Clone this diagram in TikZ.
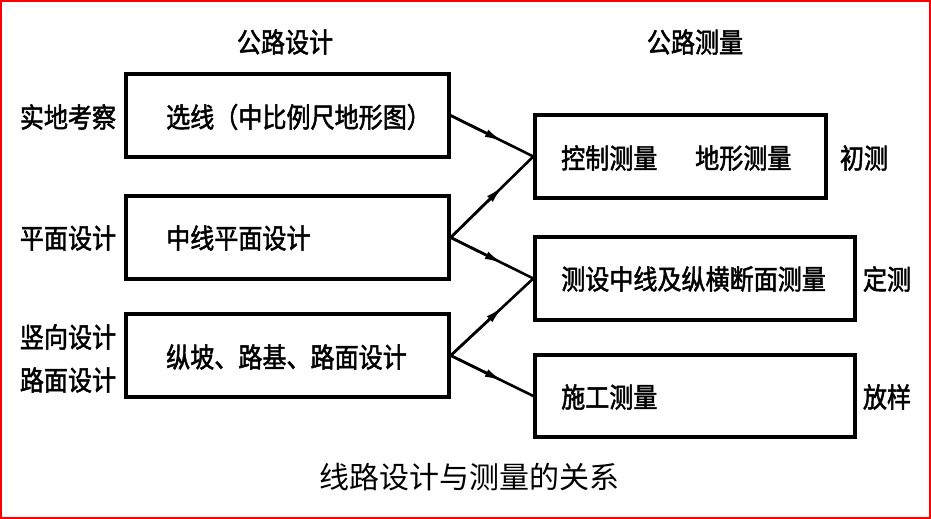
\documentclass[tikz,border=0pt]{standalone}
\usepackage{fontspec}
\newfontfamily\cjk[FakeStretch=0.875,FakeBold=1.8]{Noto Sans CJK SC}
\newfontfamily\cjkcap{Noto Sans CJK SC}
\usetikzlibrary{arrows.meta,calc}
\begin{document}
\begin{tikzpicture}[x=1pt,y=-1pt,
  box/.style={draw, line width=3.4pt, inner sep=0pt, minimum height=83pt},
  txt/.style={font=\cjk\fontsize{27.5}{30}\selectfont, inner sep=0pt},
  captext/.style={font=\cjkcap\fontsize{30}{32}\selectfont, inner sep=0pt},
  conn/.style={line width=2.6pt},
  tip/.style={line width=2.6pt, -{Latex[length=19pt,width=8pt]}}]
\useasboundingbox (0,0) rectangle (931,519);
\draw[red, line width=2pt] (1,1) rectangle (930,518);

% headers
\node[txt] (h1) at (285,42) {公路设计};
\node[txt] (h2) at (695,42) {公路测量};

% left boxes
\node[box, minimum width=323pt] (d1) at (287.5,115.5) {};
\node[box, minimum width=323pt] (d2) at (287.5,237.5) {};
\node[box, minimum width=323pt] (d3) at (287.5,355.5) {};
\node[txt, anchor=west] (t1) at (166,117) {选线（中比例尺地形图）};
\node[txt, anchor=west] (t2) at (166,238) {中线平面设计};
\node[txt, anchor=west] (t3) at (166,357) {纵坡、路基、路面设计};

% left labels
\node[txt] (l1) at (68,117) {实地考察};
\node[txt] (l2) at (68,238) {平面设计};
\node[txt] (l3) at (68,337) {竖向设计};
\node[txt] (l4) at (68,380) {路面设计};

% right boxes
\node[box, minimum width=291pt] (mA) at (680.5,156.5) {};
\node[box, minimum width=320pt] (mB) at (695,278.5) {};
\node[box, minimum width=320pt, minimum height=82pt] (mC) at (695,396) {};
\node[txt, anchor=west] (a1) at (561,158) {控制测量};
\node[txt, anchor=west] (a2) at (695,158) {地形测量};
\node[txt, anchor=west] (b1) at (561,279) {测设中线及纵横断面测量};
\node[txt, anchor=west] (c1) at (561,397) {施工测量};

% right labels
\node[txt] (r1) at (864,158) {初测};
\node[txt] (r2) at (887,279) {定测};
\node[txt] (r3) at (887,397) {放样};

% connectors
\foreach \s/\t in {d1/mA, d2/mA, d2/mB, d3/mB, d3/mC}{
  \draw[conn] (\s.east) -- (\t.west);
  \draw[tip] (\s.east) -- ($(\s.east)!0.64!(\t.west)$);
}

% caption
\node[captext] (caption) at (469,477) {线路设计与测量的关系};
\end{tikzpicture}
\end{document}
